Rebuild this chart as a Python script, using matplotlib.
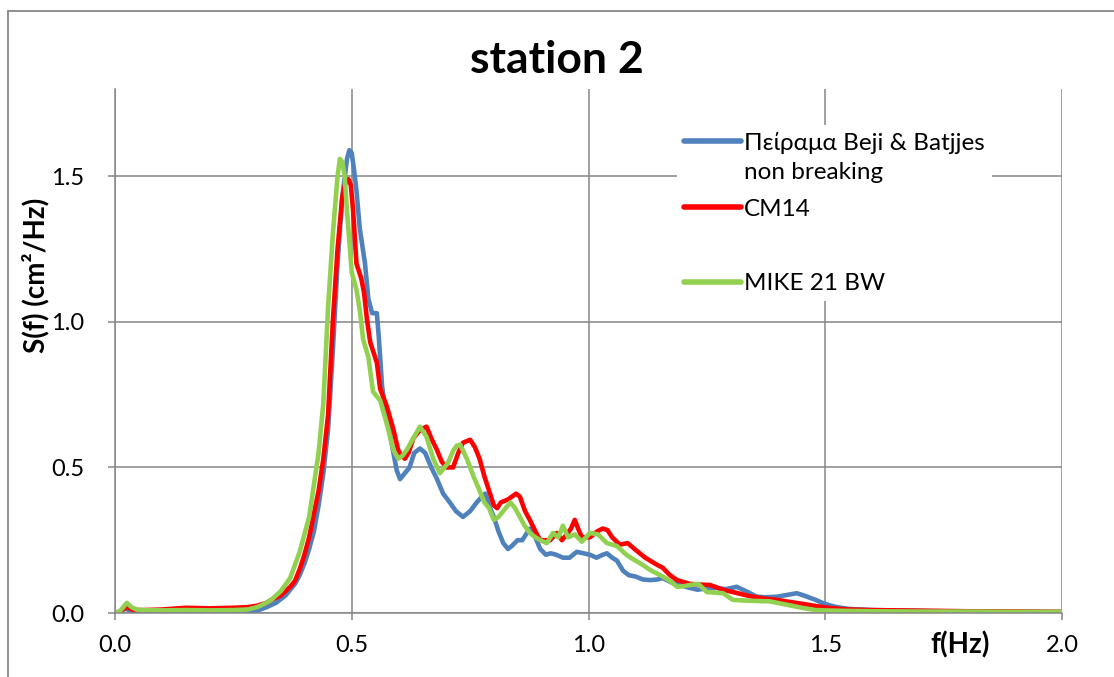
import matplotlib
matplotlib.use("Agg")
import numpy as np
import matplotlib.pyplot as plt
from matplotlib.lines import Line2D
from matplotlib.patches import Rectangle
from matplotlib.legend_handler import HandlerLine2D

plt.rcParams['font.family'] = ['Lato', 'Noto Sans', 'DejaVu Sans']

# experiment (Beji & Battjes, non breaking)
f_exp = [0, 0.01, 0.02, 0.03, 0.04, 0.06, 0.1, 0.15, 0.2, 0.25, 0.28, 0.3, 0.32, 0.34, 0.36,
         0.38, 0.39, 0.40, 0.41, 0.42, 0.43, 0.44, 0.45, 0.46, 0.47, 0.48, 0.49, 0.495, 0.50,
         0.505, 0.51, 0.517, 0.528, 0.535, 0.543, 0.553, 0.557, 0.564, 0.572, 0.58, 0.588,
         0.595, 0.602, 0.612, 0.622, 0.632, 0.644, 0.655, 0.668, 0.68, 0.693, 0.707, 0.72,
         0.735, 0.75, 0.764, 0.775, 0.782, 0.79, 0.80, 0.81, 0.82, 0.83, 0.838, 0.85, 0.86,
         0.868, 0.876, 0.885, 0.898, 0.91, 0.92, 0.932, 0.946, 0.96, 0.975, 0.99, 1.003,
         1.017, 1.03, 1.039, 1.05, 1.06, 1.073, 1.085, 1.1, 1.115, 1.13, 1.145, 1.157, 1.175,
         1.19, 1.21, 1.23, 1.25, 1.27, 1.29, 1.313, 1.335, 1.355, 1.375, 1.398, 1.419, 1.44,
         1.455, 1.468, 1.48, 1.495, 1.51, 1.525, 1.55, 1.6, 1.7, 1.8, 1.9, 2.0]
s_exp = [0.0, 0.002, 0.015, 0.01, 0.004, 0.005, 0.004, 0.005, 0.004, 0.004, 0.004, 0.008, 0.02,
         0.035, 0.06, 0.1, 0.13, 0.17, 0.22, 0.28, 0.37, 0.48, 0.63, 0.9, 1.2, 1.43, 1.56, 1.59,
         1.58, 1.52, 1.45, 1.32, 1.2, 1.08, 1.03, 1.03, 0.95, 0.78, 0.68, 0.62, 0.55, 0.49, 0.46,
         0.48, 0.5, 0.55, 0.565, 0.55, 0.5, 0.46, 0.41, 0.38, 0.35, 0.33, 0.35, 0.38, 0.40, 0.41,
         0.37, 0.33, 0.28, 0.24, 0.22, 0.23, 0.25, 0.25, 0.27, 0.29, 0.27, 0.22, 0.2, 0.205, 0.2,
         0.19, 0.19, 0.21, 0.205, 0.2, 0.19, 0.2, 0.205, 0.19, 0.18, 0.145, 0.13, 0.125, 0.115,
         0.113, 0.115, 0.12, 0.105, 0.097, 0.088, 0.08, 0.085, 0.086, 0.082, 0.09, 0.073, 0.056,
         0.054, 0.056, 0.062, 0.068, 0.06, 0.052, 0.045, 0.034, 0.026, 0.02, 0.014, 0.01, 0.007,
         0.005, 0.004, 0.003]

# CM14
f_cm14 = [0, 0.01, 0.025, 0.04, 0.06, 0.1, 0.15, 0.2, 0.25, 0.28, 0.3, 0.32, 0.33, 0.35, 0.37,
          0.38, 0.39, 0.4, 0.41, 0.42, 0.43, 0.44, 0.45, 0.46, 0.47, 0.48, 0.487, 0.493, 0.498,
          0.503, 0.51, 0.52, 0.526, 0.532, 0.539, 0.553, 0.56, 0.574, 0.588, 0.598, 0.605,
          0.612, 0.62, 0.63, 0.645, 0.658, 0.668, 0.68, 0.69, 0.70, 0.714, 0.725, 0.735, 0.75,
          0.76, 0.77, 0.78, 0.79, 0.8, 0.807, 0.815, 0.83, 0.847, 0.855, 0.866, 0.876, 0.888,
          0.898, 0.91, 0.919, 0.933, 0.944, 0.954, 0.963, 0.971, 0.978, 0.986, 1.003, 1.018,
          1.03, 1.04, 1.05, 1.066, 1.083, 1.1, 1.12, 1.14, 1.157, 1.172, 1.187, 1.214, 1.235,
          1.257, 1.284, 1.31, 1.34, 1.37, 1.398, 1.425, 1.453, 1.48, 1.51, 1.55, 1.6, 1.7, 1.8,
          1.9, 2.0]
s_cm14 = [0.0, 0.005, 0.02, 0.01, 0.01, 0.012, 0.018, 0.016, 0.018, 0.02, 0.025, 0.035, 0.045,
          0.06, 0.09, 0.11, 0.15, 0.2, 0.26, 0.34, 0.42, 0.53, 0.68, 1.0, 1.25, 1.43, 1.48, 1.49,
          1.47, 1.38, 1.2, 1.15, 1.1, 1.01, 0.93, 0.86, 0.77, 0.71, 0.63, 0.56, 0.54, 0.53, 0.55,
          0.6, 0.63, 0.64, 0.6, 0.56, 0.52, 0.5, 0.5, 0.55, 0.585, 0.595, 0.57, 0.53, 0.47, 0.42,
          0.37, 0.36, 0.38, 0.39, 0.41, 0.4, 0.35, 0.32, 0.28, 0.25, 0.25, 0.25, 0.275, 0.25,
          0.27, 0.29, 0.32, 0.29, 0.26, 0.26, 0.28, 0.29, 0.285, 0.26, 0.235, 0.24, 0.216, 0.19,
          0.17, 0.155, 0.13, 0.113, 0.1, 0.098, 0.096, 0.08, 0.07, 0.058, 0.05, 0.045, 0.038,
          0.031, 0.024, 0.017, 0.012, 0.01, 0.008, 0.006, 0.005, 0.004]

# MIKE 21 BW
f_mike = [0, 0.01, 0.025, 0.035, 0.045, 0.06, 0.1, 0.15, 0.2, 0.25, 0.28, 0.3, 0.32, 0.33, 0.35,
          0.37, 0.39, 0.41, 0.42, 0.43, 0.44, 0.45, 0.46, 0.47, 0.475, 0.48, 0.485, 0.49, 0.50,
          0.51, 0.517, 0.524, 0.535, 0.545, 0.56, 0.574, 0.588, 0.598, 0.607, 0.616, 0.63,
          0.644, 0.658, 0.672, 0.686, 0.703, 0.715, 0.722, 0.729, 0.743, 0.757, 0.77, 0.78,
          0.79, 0.80, 0.81, 0.82, 0.835, 0.845, 0.855, 0.865, 0.876, 0.888, 0.898, 0.912,
          0.925, 0.936, 0.946, 0.957, 0.971, 0.986, 1.003, 1.02, 1.039, 1.06, 1.08, 1.094,
          1.11, 1.13, 1.157, 1.172, 1.187, 1.2, 1.214, 1.232, 1.25, 1.284, 1.305, 1.34, 1.383,
          1.426, 1.453, 1.48, 1.52, 1.6, 1.7, 1.8, 1.9, 2.0]
s_mike = [0.0, 0.005, 0.035, 0.02, 0.012, 0.01, 0.009, 0.01, 0.009, 0.01, 0.012, 0.02, 0.035,
          0.045, 0.075, 0.12, 0.21, 0.33, 0.44, 0.55, 0.72, 1.05, 1.3, 1.5, 1.56, 1.55, 1.5,
          1.38, 1.17, 1.11, 1.04, 0.94, 0.88, 0.76, 0.73, 0.65, 0.56, 0.53, 0.54, 0.56, 0.6,
          0.64, 0.605, 0.53, 0.48, 0.515, 0.56, 0.575, 0.578, 0.53, 0.47, 0.42, 0.38, 0.36,
          0.32, 0.33, 0.35, 0.38, 0.36, 0.33, 0.3, 0.275, 0.26, 0.25, 0.24, 0.275, 0.26, 0.3,
          0.26, 0.27, 0.245, 0.275, 0.27, 0.24, 0.23, 0.2, 0.185, 0.17, 0.148, 0.125, 0.11,
          0.09, 0.092, 0.096, 0.1, 0.072, 0.068, 0.045, 0.042, 0.04, 0.026, 0.017, 0.01, 0.008,
          0.006, 0.005, 0.005, 0.004, 0.004]

labels = ['Πείραμα Beji & Batjjes\nnon breaking', 'CM14', 'MIKE 21 BW']
colors = ['#4F81BD', '#FF0000', '#92D050']
xticks = [0.0, 0.5, 1.0, 1.5, 2.0]
yticks = [0.0, 0.5, 1.0, 1.5]


class FirstLineHandler(HandlerLine2D):
    # put the legend line next to the first line of a two-line label
    def __init__(self, shift, **kw):
        super().__init__(**kw)
        self.shift = shift

    def create_artists(self, legend, orig_handle, xdescent, ydescent, width, height,
                       fontsize, trans):
        arts = super().create_artists(legend, orig_handle, xdescent, ydescent, width,
                                      height, fontsize, trans)
        for a in arts:
            a.set_ydata(np.asarray(a.get_ydata()) + self.shift)
        return arts


grey = '#868686'
fig = plt.figure(figsize=(11.14, 6.77), dpi=100)
ax = fig.add_axes([115 / 1114, 1 - 613 / 677, 947 / 1114, 524 / 677])

# outer chart border
fig.patches.append(Rectangle((8 / 1114, -0.1), 1.2, 1.1 - 11 / 677, transform=fig.transFigure,
                             fill=False, edgecolor=grey, lw=1.3))

l1, = ax.plot(f_exp, s_exp, color=colors[0], lw=3.3, solid_joinstyle='round')
l2, = ax.plot(f_cm14, s_cm14, color=colors[1], lw=3.3, solid_joinstyle='round')
l3, = ax.plot(f_mike, s_mike, color=colors[2], lw=3.3, solid_joinstyle='round')

ax.set_xlim(0, 2.0)
ax.set_ylim(0, 1.8)
ax.set_xticks(xticks)
ax.set_yticks(yticks)
ax.set_xticklabels([f'{v:.1f}' for v in xticks])
ax.set_yticklabels([f'{v:.1f}' for v in yticks])
ax.grid(True, color=grey, lw=1.1)
ax.set_axisbelow(True)
for s in ['top', 'right']:
    ax.spines[s].set_visible(False)
for s in ['left', 'bottom']:
    ax.spines[s].set_color(grey)
    ax.spines[s].set_linewidth(1.1)
ax.tick_params(direction='out', length=5, width=1.1, color=grey, labelsize=17)
ax.tick_params(axis='x', pad=11)
ax.tick_params(axis='y', pad=17)

fig.text(0.5, 1 - 60 / 677, 'station 2', ha='center', va='center', fontsize=32, fontweight='bold')
ax.text(-0.084, 0.645, 'S(f) (cm²/Hz)', rotation=90, ha='center', va='center',
        transform=ax.transAxes, fontsize=20, fontweight='bold')
ax.text(0.892, -0.061, 'f(Hz)', ha='center', va='center', transform=ax.transAxes,
        fontsize=20, fontweight='bold')

blank = Line2D([], [], color='none')
leg = ax.legend([l1, l2, blank, l3], [labels[0], labels[1], ' ', labels[2]],
                loc='upper left', bbox_to_anchor=((677 - 115) / 947, (613 - 125) / 524),
                frameon=True, fancybox=False, framealpha=1, edgecolor='none', fontsize=17.5,
                handlelength=2.35, handletextpad=0.12, labelspacing=0.66, borderpad=0.3,
                borderaxespad=0, handler_map={l1: FirstLineHandler(12.0)})
for t in leg.get_texts():
    t.set_linespacing(1.45)
for line in leg.get_lines():
    line.set_linewidth(4)
    line.set_solid_capstyle('round')

fig.savefig('out.png', dpi=100)
